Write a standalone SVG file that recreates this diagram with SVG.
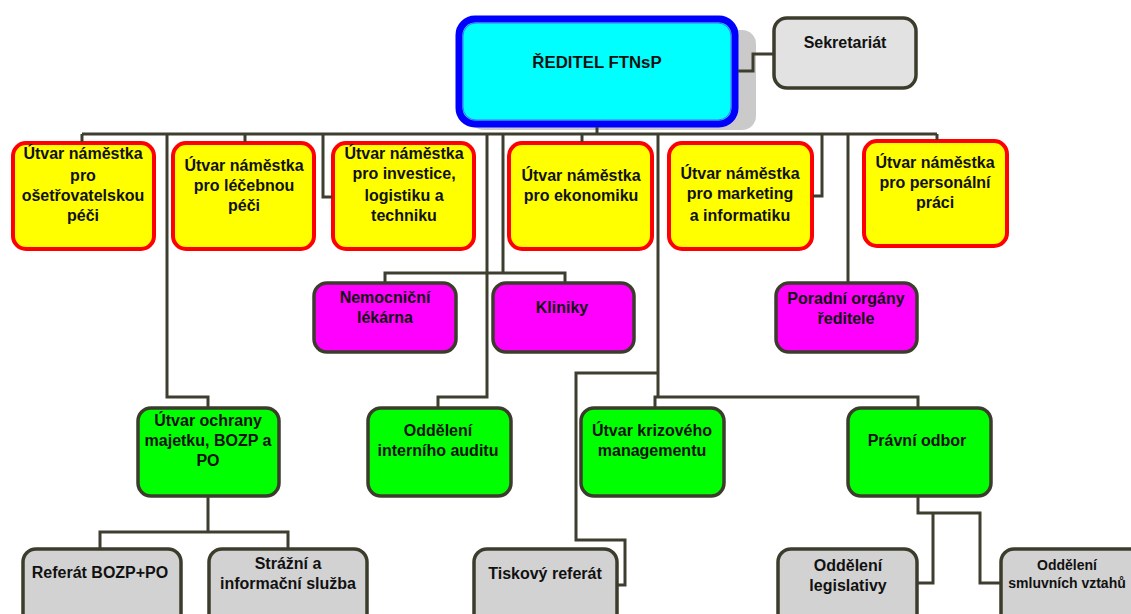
<svg xmlns="http://www.w3.org/2000/svg" width="1131" height="614" viewBox="0 0 1131 614">
<style>
text{font-family:"Liberation Sans",Arial,sans-serif;font-weight:bold;font-size:16px;fill:#111;text-anchor:middle;dominant-baseline:central}
.y{fill:#ffff00;stroke:#ff0000;stroke-width:4}
.m{fill:#ff00ff;stroke:#3c3c2c;stroke-width:3.5}
.g{fill:#00ff00;stroke:#3c3c2c;stroke-width:3.5}
.gr{fill:#d2d2d2;stroke:#3c3c2c;stroke-width:3.5}
.c{fill:none;stroke:#3e3e30;stroke-width:3;stroke-linejoin:miter}
</style>
<rect width="1131" height="614" fill="#ffffff"/>
<g id="director">
<rect x="470" y="30" width="286" height="100" rx="14" fill="#cacaca"/>
<rect x="459" y="19" width="276" height="105" rx="16" fill="#00ffff" stroke="#0000ff" stroke-width="7"/>
<rect x="463" y="23" width="268" height="97" rx="13" fill="none" stroke="#4a6cff" stroke-width="1"/>
<text x="597" y="62" style="font-size:16.8px">ŘEDITEL FTNsP</text>
</g>
<g id="sekretariat">
<rect x="774" y="18" width="142" height="70" rx="13" fill="#e2e2e2" stroke="#3c3c2c" stroke-width="3.5"/>
<text x="845" y="42">Sekretariát</text>
</g>
<g id="n1">
<rect class="y" x="13" y="143" width="141" height="106" rx="13"/>
<text x="83" y="153">Útvar náměstka</text><text x="83" y="175">pro</text><text x="83" y="195">ošetřovatelskou</text><text x="83" y="215">péči</text>
</g>
<g id="n2">
<rect class="y" x="173" y="143" width="141" height="106" rx="13"/>
<text x="244" y="165">Útvar náměstka</text><text x="244" y="185">pro léčebnou</text><text x="244" y="205">péči</text>
</g>
<g id="n3">
<rect class="y" x="333" y="143" width="141" height="106" rx="13"/>
<text x="404" y="153">Útvar náměstka</text><text x="404" y="173">pro investice,</text><text x="404" y="195">logistiku a</text><text x="404" y="215">techniku</text>
</g>
<g id="n4">
<rect class="y" x="509" y="143" width="143" height="106" rx="13"/>
<text x="581" y="175">Útvar náměstka</text><text x="581" y="195">pro ekonomiku</text>
</g>
<g id="n5">
<rect class="y" x="669" y="143" width="143" height="106" rx="13"/>
<text x="740" y="173">Útvar náměstka</text><text x="740" y="193">pro marketing</text><text x="740" y="215">a informatiku</text>
</g>
<g id="n6">
<rect class="y" x="864" y="141" width="143" height="105" rx="13"/>
<text x="935" y="162">Útvar náměstka</text><text x="935" y="182">pro personální</text><text x="935" y="202">práci</text>
</g>
<g id="lekarna">
<rect class="m" x="314" y="283" width="142" height="69" rx="13"/>
<text x="385" y="297">Nemocniční</text><text x="385" y="317">lékárna</text>
</g>
<g id="kliniky">
<rect class="m" x="493" y="283" width="141" height="69" rx="13"/>
<text x="562" y="307">Kliniky</text>
</g>
<g id="poradni">
<rect class="m" x="776" y="283" width="141" height="69" rx="13"/>
<text x="846" y="298">Poradní orgány</text><text x="846" y="318">ředitele</text>
</g>
<g id="ochrana">
<rect class="g" x="138" y="408" width="141" height="88" rx="13"/>
<text x="208" y="420">Útvar ochrany</text><text x="208" y="440">majetku, BOZP a</text><text x="208" y="460">PO</text>
</g>
<g id="audit">
<rect class="g" x="368" y="408" width="143" height="88" rx="13"/>
<text x="438" y="430">Oddělení</text><text x="438" y="450">interního auditu</text>
</g>
<g id="krizove">
<rect class="g" x="581" y="408" width="143" height="88" rx="13"/>
<text x="652" y="430">Útvar krizového</text><text x="652" y="450">managementu</text>
</g>
<g id="pravni">
<rect class="g" x="848" y="408" width="143" height="88" rx="13"/>
<text x="917" y="440">Právní odbor</text>
</g>
<g id="referat">
<rect class="gr" x="23" y="549" width="158" height="80" rx="13"/>
<text x="100" y="572">Referát BOZP+PO</text>
</g>
<g id="strazni">
<rect class="gr" x="209" y="549" width="158" height="80" rx="13"/>
<text x="288" y="563">Strážní a</text><text x="288" y="583">informační služba</text>
</g>
<g id="tiskovy">
<rect class="gr" x="474" y="549" width="143" height="80" rx="13"/>
<text x="545" y="573">Tiskový referát</text>
</g>
<g id="legislativa">
<rect class="gr" x="778" y="549" width="139" height="80" rx="13"/>
<text x="848" y="565">Oddělení</text><text x="848" y="585">legislativy</text>
</g>
<g id="smluvni">
<rect class="gr" x="1001" y="549" width="145" height="80" rx="13"/>
<text x="1067" y="565" style="font-size:14px">Oddělení</text><text x="1067" y="583" style="font-size:14px">smluvních vztahů</text>
</g>
<g id="connectors">
<path class="c" d="M82,134H937"/>
<path class="c" d="M597,127V134"/>
<path class="c" d="M738,71H753V54H773"/>
<path class="c" d="M82,134V142M245,134V142M582,134V142M937,134V140"/>
<path class="c" d="M323,134V197H332"/>
<path class="c" d="M822,134V196H813"/>
<path class="c" d="M167,134V397H208V407"/>
<path class="c" d="M503,134V273M385,282V273H565V282"/>
<path class="c" d="M487,134V397H438V407"/>
<path class="c" d="M848,134V282"/>
<path class="c" d="M658,134V397M655,407V397H918V407"/>
<path class="c" d="M658,373H576V540H625V585H618"/>
<path class="c" d="M208,497V532M100,548V532H288V548"/>
<path class="c" d="M918,497V513H980V583H1000M933,513V583H918"/>
</g>
</svg>
